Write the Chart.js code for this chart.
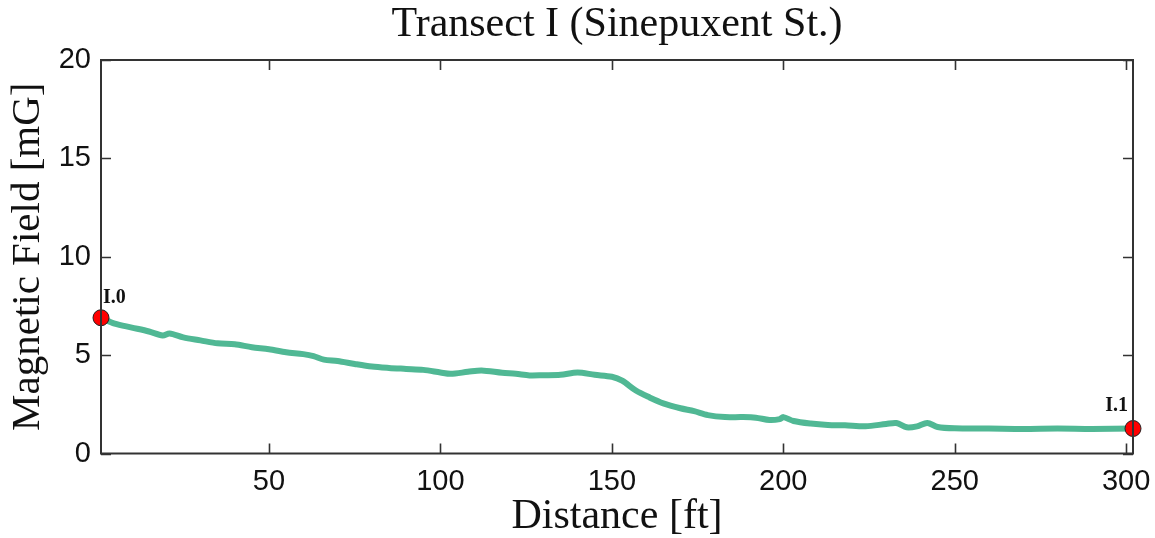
<!DOCTYPE html>
<html>
<head>
<meta charset="utf-8">
<script src="https://cdn.jsdelivr.net/npm/chart.js@4.4.0/dist/chart.umd.min.js"></script>
<style>
  html, body { margin: 0; padding: 0; background: #fff; }
  #wrap { width: 1155px; height: 538px; }
</style>
</head>
<body>
<div id="wrap"><canvas id="chart"></canvas></div>
<script>
// readings along the transect
const distances = [1, 5, 10, 15, 19, 21, 25, 30, 35, 40, 45, 50, 55, 60, 63, 66, 70, 75, 80, 85,
  90, 95, 100, 103, 108, 112, 118, 122, 126, 130, 135, 140, 145, 150, 153, 157, 161, 165, 170, 174,
  178, 183, 188, 192, 196, 199, 200, 203, 208, 213, 218, 224, 230, 233, 236, 239, 242, 245, 250, 260,
  270, 280, 290, 302];
const fieldValues = [6.9, 6.6, 6.4, 6.2, 6.0, 6.1, 5.9, 5.75, 5.6, 5.55, 5.4, 5.3, 5.15, 5.05, 4.95, 4.77, 4.7, 4.55, 4.42, 4.35,
  4.3, 4.25, 4.12, 4.05, 4.15, 4.22, 4.1, 4.05, 3.97, 3.98, 4.0, 4.12, 4.0, 3.9, 3.7, 3.2, 2.85, 2.55, 2.3, 2.15,
  1.95, 1.85, 1.85, 1.82, 1.7, 1.75, 1.85, 1.65, 1.52, 1.45, 1.43, 1.38, 1.5, 1.55, 1.33, 1.38, 1.55, 1.35, 1.28, 1.27,
  1.25, 1.27, 1.25, 1.27];

const markerNames = ["I.0", "I.1"];
const markerX = [1, 302];
const markerY = [6.9, 1.27];

const xTicks = [50, 100, 150, 200, 250, 300];
const yTicks = [0, 5, 10, 15, 20];

const lineData = distances.map((d, k) => ({ x: d, y: fieldValues[k] }));
const markerData = markerX.map((d, k) => ({ x: d, y: markerY[k] }));

// centre the title over the plot area, not the whole canvas
const centerTitle = {
  id: "centerTitle",
  afterLayout(chart) {
    if (chart.titleBlock) {
      chart.titleBlock.left = chart.chartArea.left;
      chart.titleBlock.right = chart.chartArea.right;
    }
  }
};

const frame = {
  id: "frame",
  afterDatasetsDraw(chart) {
    const { ctx, chartArea: a, scales } = chart;
    const len = 10;
    ctx.save();
    ctx.strokeStyle = "#333";
    ctx.lineWidth = 1.6;
    ctx.beginPath();
    xTicks.forEach(v => {
      const px = Math.round(scales.x.getPixelForValue(v)) + 0.5;
      ctx.moveTo(px, a.bottom); ctx.lineTo(px, a.bottom - len);
      ctx.moveTo(px, a.top); ctx.lineTo(px, a.top + len);
    });
    yTicks.forEach(v => {
      const py = Math.round(scales.y.getPixelForValue(v)) + 0.5;
      ctx.moveTo(a.left, py); ctx.lineTo(a.left + len, py);
      ctx.moveTo(a.right, py); ctx.lineTo(a.right - len, py);
    });
    ctx.stroke();
    ctx.lineWidth = 2;
    ctx.strokeRect(a.left, a.top, a.right - a.left, a.bottom - a.top);

    // point labels
    ctx.fillStyle = "#111";
    ctx.font = "bold 20px 'Liberation Serif', serif";
    ctx.textBaseline = "alphabetic";
    markerNames.forEach((name, k) => {
      const px = scales.x.getPixelForValue(markerX[k]);
      const py = scales.y.getPixelForValue(markerY[k]);
      if (k === 0) {
        ctx.textAlign = "left";
        ctx.fillText(name, px + 2, py - 15);
      } else {
        ctx.textAlign = "right";
        ctx.fillText(name, px - 5, py - 18);
      }
    });
    ctx.restore();
  }
};

new Chart(document.getElementById("chart"), {
  type: "scatter",
  data: {
    datasets: [
      {
        data: markerData,
        showLine: false,
        pointRadius: 8,
        pointBackgroundColor: "#ff0000",
        pointBorderColor: "#222",
        pointBorderWidth: 1,
        clip: false,
        order: 0
      },
      {
        data: lineData,
        showLine: true,
        borderColor: "rgb(80,184,148)",
        borderWidth: 6,
        pointRadius: 0,
        tension: 0.3,
        borderCapStyle: "round",
        borderJoinStyle: "round",
        order: 1
      }
    ]
  },
  options: {
    responsive: true,
    maintainAspectRatio: false,
    animation: false,
    layout: { padding: { left: 0, right: 22, top: 0, bottom: 0 } },
    plugins: {
      legend: { display: false },
      tooltip: { enabled: false },
      title: {
        display: true,
        text: "Transect I (Sinepuxent St.)",
        color: "#111",
        font: { family: "'Liberation Serif', serif", size: 42, weight: "normal", lineHeight: 1.2 },
        padding: { top: 0, bottom: 9.6 }
      }
    },
    scales: {
      x: {
        type: "linear",
        min: 1,
        max: 302,
        afterBuildTicks: s => { s.ticks = xTicks.map(v => ({ value: v })); },
        afterFit: s => { s.height = 84.5; s.paddingLeft = 0; s.paddingRight = 0; },
        grid: { display: false, drawTicks: false },
        border: { display: false },
        ticks: {
          color: "#111",
          padding: 11,
          font: { family: "'Liberation Sans', Arial, sans-serif", size: 29 }
        },
        title: {
          display: true,
          text: "Distance [ft]",
          color: "#111",
          font: { family: "'Liberation Serif', serif", size: 42, lineHeight: 1.0 },
          padding: { top: 0, bottom: 0 }
        }
      },
      y: {
        type: "linear",
        min: 0,
        max: 20,
        afterBuildTicks: s => { s.ticks = yTicks.map(v => ({ value: v })); },
        afterFit: s => { s.width = 101; s.paddingTop = 0; s.paddingBottom = 0; },
        grid: { display: false, drawTicks: false },
        border: { display: false },
        ticks: {
          color: "#111",
          padding: 10,
          font: { family: "'Liberation Sans', Arial, sans-serif", size: 29 }
        },
        title: {
          display: true,
          text: "Magnetic Field [mG]",
          color: "#111",
          font: { family: "'Liberation Serif', serif", size: 41, lineHeight: 1.1 },
          padding: { top: 6, bottom: 0 }
        }
      }
    }
  },
  plugins: [centerTitle, frame]
});
</script>
</body>
</html>
